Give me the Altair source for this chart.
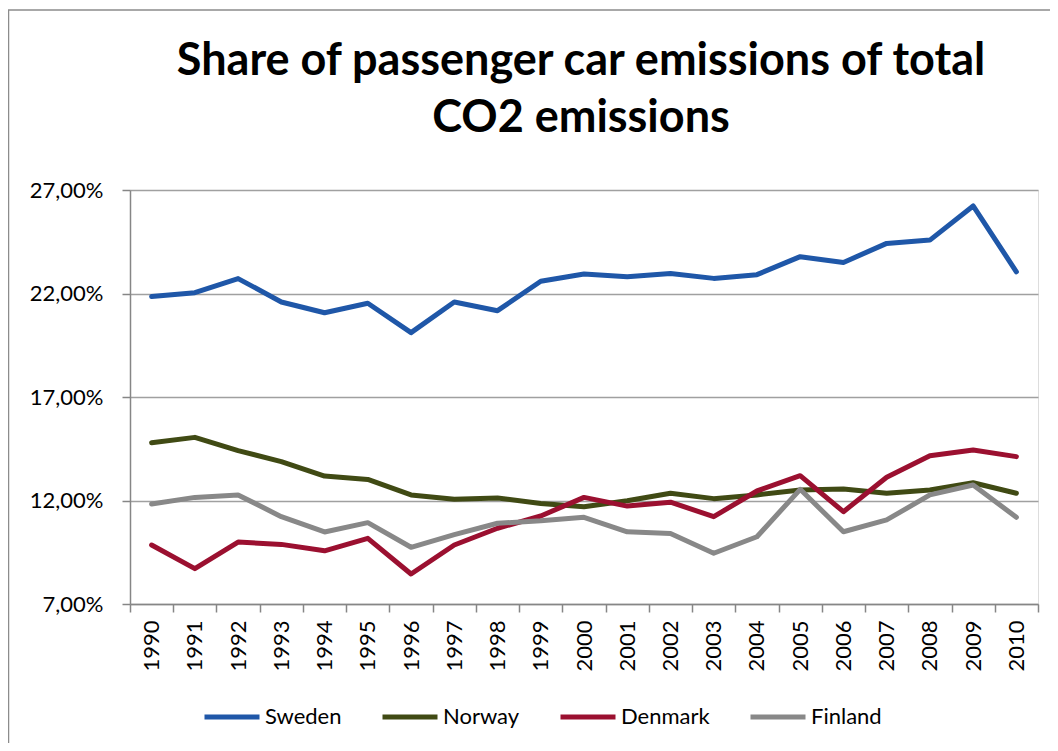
import altair as alt
import pandas as pd

years = [str(y) for y in range(1990, 2011)]
countries = ["Sweden", "Norway", "Denmark", "Finland"]
colors = ["#1F57A8", "#404A14", "#9B1030", "#888888"]

sweden = [21.85, 22.04, 22.72, 21.59, 21.07, 21.53, 20.11, 21.59, 21.17, 22.59, 22.94,
          22.81, 22.97, 22.73, 22.91, 23.78, 23.50, 24.42, 24.58, 26.23, 23.05]
norway = [14.79, 15.05, 14.41, 13.88, 13.18, 13.02, 12.27, 12.06, 12.12, 11.86, 11.70,
          11.99, 12.35, 12.09, 12.27, 12.51, 12.56, 12.35, 12.51, 12.86, 12.35]
denmark = [9.85, 8.71, 9.99, 9.88, 9.57, 10.17, 8.45, 9.85, 10.66, 11.25, 12.15,
           11.73, 11.92, 11.22, 12.46, 13.20, 11.46, 13.12, 14.16, 14.44, 14.12]
finland = [11.83, 12.15, 12.27, 11.22, 10.48, 10.93, 9.74, 10.35, 10.90, 11.02, 11.19,
           10.49, 10.41, 9.45, 10.25, 12.54, 10.49, 11.06, 12.27, 12.75, 11.19]
y_ticks = [7, 12, 17, 22, 27]

series = {"Sweden": sweden, "Norway": norway, "Denmark": denmark, "Finland": finland}
rows = []
for c in countries:
    for yr, v in zip(years, series[c]):
        rows.append({"Year": yr, "Country": c, "Share": v})
df = pd.DataFrame(rows)

FONT = "Lato"

lines = alt.Chart(df).mark_line(strokeWidth=5, strokeCap="round", strokeJoin="round").encode(
    x=alt.X("Year:O", sort=years,
            scale=alt.Scale(type="band", paddingInner=0, paddingOuter=0),
            axis=alt.Axis(title=None, labelAngle=-90, tickBand="extent", tickSize=8,
                          labelPadding=8, labelFontSize=22, labelFont=FONT,
                          labelColor="#000000", domainColor="#868686", tickColor="#868686",
                          domainWidth=1.5, tickWidth=1.5, grid=False)),
    y=alt.Y("Share:Q",
            scale=alt.Scale(domain=[7, 27], nice=False, zero=False),
            axis=alt.Axis(title=None, values=y_ticks,
                          labelExpr="replace(format(datum.value, '.2f'), '.', ',') + '%'",
                          tickSize=8, labelPadding=19, labelFontSize=22, labelFont=FONT,
                          labelColor="#000000", domainColor="#868686", tickColor="#868686",
                          domainWidth=1.5, tickWidth=1.5,
                          grid=True, gridColor="#A0A0A0", gridWidth=1.5)),
    color=alt.Color("Country:N",
                    scale=alt.Scale(domain=countries, range=colors),
                    legend=alt.Legend(title=None, orient="none", direction="horizontal",
                                      columns=4, legendX=72, legendY=497,
                                      symbolType="stroke", symbolSize=3025,
                                      symbolStrokeWidth=5, labelFontSize=22,
                                      labelFont=FONT, labelColor="#000000",
                                      labelOffset=3, columnPadding=30, padding=0)),
)

border = alt.Chart(alt.Data(values=[{}])).mark_rect(
    fill="transparent", stroke="#8C8C8C", strokeWidth=1.5
).encode(
    x=alt.value(-121.5), x2=alt.value(1000), y=alt.value(-180), y2=alt.value(700)
)

chart = alt.layer(border, lines).properties(
    width=908, height=414,
    autosize=alt.AutoSizeParams(type="none"),
    padding={"left": 122, "top": 182, "right": 12, "bottom": 139},
    title=alt.Title(["Share of passenger car emissions of total", "CO2 emissions"],
                    font=FONT, fontSize=45, fontWeight="bold", color="#000000",
                    anchor="middle", frame="group", lineHeight=57, offset=0, dy=132,
                    dx=-3),
).configure_view(stroke=None).configure(background="white")

chart.save("out.html", embed_options={"renderer": "svg", "actions": False})
